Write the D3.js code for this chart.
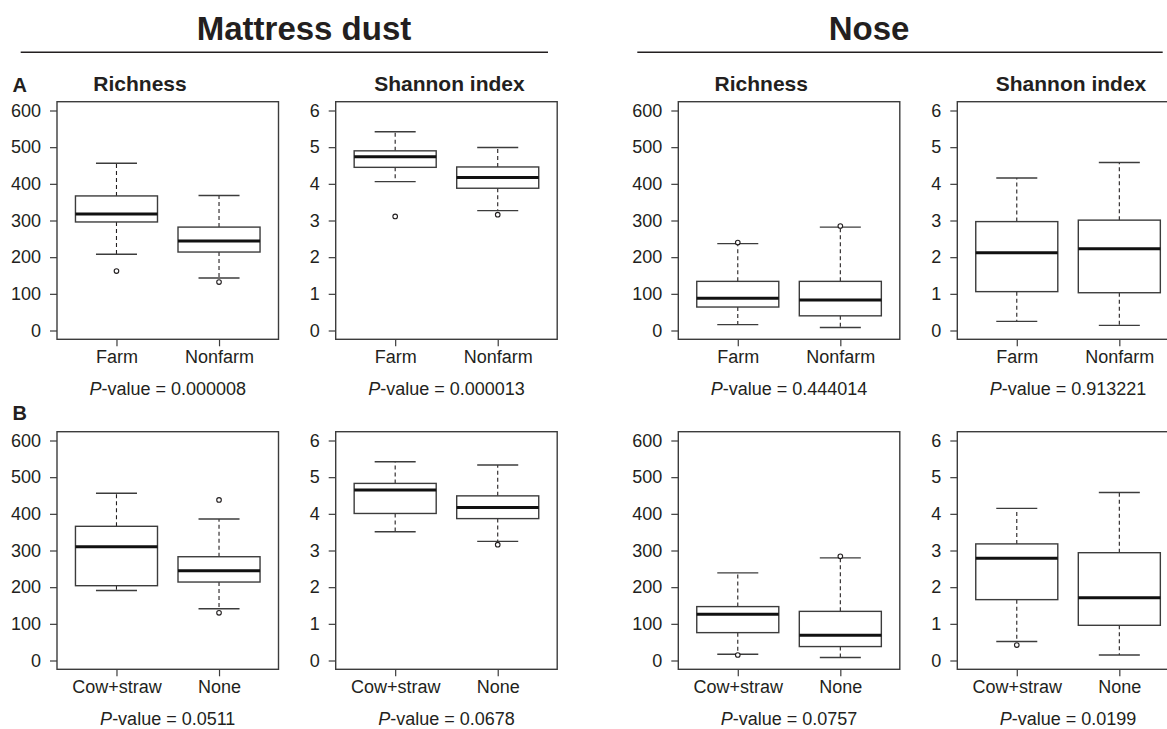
<!DOCTYPE html>
<html>
<head>
<meta charset="utf-8">
<script src="https://cdn.jsdelivr.net/npm/d3@7"></script>
<style>
  html, body { margin: 0; padding: 0; background: #fff; }
  svg { display: block; font-family: "Liberation Sans", Arial, Helvetica, sans-serif; }
</style>
</head>
<body>
<svg id="chart" width="1167" height="729"></svg>
<script>
// ---- Data -------------------------------------------------------------
const sites = ["Mattress dust", "Nose"];
const metrics = ["Richness", "Shannon index"];
const rowLabels = ["A", "B"];
const groupsA = ["Farm", "Nonfarm"];
const groupsB = ["Cow+straw", "None"];
const richnessTicks = [0, 100, 200, 300, 400, 500, 600];
const shannonTicks = [0, 1, 2, 3, 4, 5, 6];

// box statistics per group: [lower whisker, Q1, median, Q3, upper whisker]
const dustRichnessA   = [[208, 296, 318, 367, 456], [143, 214, 244, 282, 368]];
const dustRichnessAOut = [[162], [132]];
const dustShannonA    = [[4.06, 4.45, 4.74, 4.90, 5.42], [3.27, 3.88, 4.17, 4.46, 4.99]];
const dustShannonAOut = [[3.11], [3.16]];
const noseRichnessA   = [[16, 64, 88, 134, 237], [8, 40, 83, 134, 282]];
const noseRichnessAOut = [[240], [285]];
const noseShannonA    = [[0.25, 1.06, 2.12, 2.97, 4.16], [0.14, 1.03, 2.23, 3.01, 4.58]];
const noseShannonAOut = [[], []];

const dustRichnessB   = [[191, 204, 310, 366, 456], [141, 214, 245, 283, 386]];
const dustRichnessBOut = [[], [438, 130]];
const dustShannonB    = [[3.51, 4.01, 4.65, 4.83, 5.42], [3.25, 3.87, 4.17, 4.49, 5.33]];
const dustShannonBOut = [[], [3.16]];
const noseRichnessB   = [[17, 76, 126, 147, 239], [8, 38, 69, 134, 280]];
const noseRichnessBOut = [[15], [284]];
const noseShannonB    = [[0.52, 1.66, 2.79, 3.18, 4.15], [0.15, 0.96, 1.71, 2.94, 4.58]];
const noseShannonBOut = [[0.42], []];

const pValuesA = ["0.000008", "0.000013", "0.444014", "0.913221"];
const pValuesB = ["0.0511", "0.0678", "0.0757", "0.0199"];

// ---- Layout -----------------------------------------------------------
const INK = "#231f20";
const LINE = "#3c3c3c";
const colX = [57, 335.7, 678.3, 957.3];
const rowY = [101.7, 431.7];
const panelW = 221.5, panelH = 237.6;

const svg = d3.select("#chart");

// section headings with rules underneath
const headings = [
  { text: sites[0], cx: 304, x1: 20.7, x2: 548 },
  { text: sites[1], cx: 869, x1: 637.3, x2: 1162.7 }
];
headings.forEach(h => {
  svg.append("text").attr("x", h.cx).attr("y", 39.5)
    .attr("text-anchor", "middle").attr("font-size", 33).attr("font-weight", "bold")
    .attr("fill", INK).text(h.text);
  svg.append("line").attr("x1", h.x1).attr("x2", h.x2).attr("y1", 52.3).attr("y2", 52.3)
    .attr("stroke", INK).attr("stroke-width", 1.4);
});

// row letters
svg.append("text").attr("x", 12.5).attr("y", 91.5).attr("font-size", 20)
  .attr("font-weight", "bold").attr("fill", INK).text(rowLabels[0]);
svg.append("text").attr("x", 12.5).attr("y", 419.5).attr("font-size", 20)
  .attr("font-weight", "bold").attr("fill", INK).text(rowLabels[1]);

const panels = [
  { row: 0, col: 0, groups: groupsA, stats: dustRichnessA, out: dustRichnessAOut, ticks: richnessTicks, title: metrics[0], p: pValuesA[0] },
  { row: 0, col: 1, groups: groupsA, stats: dustShannonA,  out: dustShannonAOut,  ticks: shannonTicks,  title: metrics[1], p: pValuesA[1] },
  { row: 0, col: 2, groups: groupsA, stats: noseRichnessA, out: noseRichnessAOut, ticks: richnessTicks, title: metrics[0], p: pValuesA[2] },
  { row: 0, col: 3, groups: groupsA, stats: noseShannonA,  out: noseShannonAOut,  ticks: shannonTicks,  title: metrics[1], p: pValuesA[3] },
  { row: 1, col: 0, groups: groupsB, stats: dustRichnessB, out: dustRichnessBOut, ticks: richnessTicks, title: null, p: pValuesB[0] },
  { row: 1, col: 1, groups: groupsB, stats: dustShannonB,  out: dustShannonBOut,  ticks: shannonTicks,  title: null, p: pValuesB[1] },
  { row: 1, col: 2, groups: groupsB, stats: noseRichnessB, out: noseRichnessBOut, ticks: richnessTicks, title: null, p: pValuesB[2] },
  { row: 1, col: 3, groups: groupsB, stats: noseShannonB,  out: noseShannonBOut,  ticks: shannonTicks,  title: null, p: pValuesB[3] }
];

panels.forEach(pn => {
  const x0 = colX[pn.col], y0 = rowY[pn.row];
  const g = svg.append("g").attr("transform", `translate(${x0},${y0})`);

  const tMin = pn.ticks[0], tMax = pn.ticks[pn.ticks.length - 1];
  const pad = (tMax - tMin) * 0.04;
  const y = d3.scaleLinear().domain([tMin - pad, tMax + pad]).range([panelH, 0]);
  const x = d3.scalePoint().domain(pn.groups).range([0, panelW]).padding(0.58);
  const step = x.step();
  const halfBox = 0.4 * step, halfCap = 0.2 * step;

  // axes
  const yAxis = g.append("g").call(
    d3.axisLeft(y).tickValues(pn.ticks).tickFormat(d3.format("d")).tickSize(7).tickPadding(9));
  yAxis.select(".domain").remove();
  yAxis.selectAll("line").attr("stroke", LINE).attr("stroke-width", 1.2);
  yAxis.selectAll("text").attr("font-size", 18).attr("fill", INK)
    .attr("font-family", "'Liberation Sans', Arial, sans-serif");

  const xAxis = g.append("g").attr("transform", `translate(0,${panelH})`)
    .call(d3.axisBottom(x).tickSize(7).tickPadding(4));
  xAxis.select(".domain").remove();
  xAxis.selectAll("line").attr("stroke", LINE).attr("stroke-width", 1.2);
  xAxis.selectAll("text").attr("font-size", 18).attr("fill", INK)
    .attr("font-family", "'Liberation Sans', Arial, sans-serif");

  // frame
  g.append("rect").attr("width", panelW).attr("height", panelH)
    .attr("fill", "none").attr("stroke", LINE).attr("stroke-width", 1.4);

  // boxes
  pn.groups.forEach((grp, i) => {
    const [lo, q1, med, q3, hi] = pn.stats[i];
    const cx = x(grp);
    const bg = g.append("g");
    bg.append("line").attr("x1", cx).attr("x2", cx).attr("y1", y(q3)).attr("y2", y(hi))
      .attr("stroke", INK).attr("stroke-width", 1.1).attr("stroke-dasharray", "4,3");
    bg.append("line").attr("x1", cx).attr("x2", cx).attr("y1", y(q1)).attr("y2", y(lo))
      .attr("stroke", INK).attr("stroke-width", 1.1).attr("stroke-dasharray", "4,3");
    [lo, hi].forEach(v => {
      bg.append("line").attr("x1", cx - halfCap).attr("x2", cx + halfCap)
        .attr("y1", y(v)).attr("y2", y(v)).attr("stroke", LINE).attr("stroke-width", 1.4);
    });
    bg.append("rect").attr("x", cx - halfBox).attr("width", 2 * halfBox)
      .attr("y", y(q3)).attr("height", y(q1) - y(q3))
      .attr("fill", "#fff").attr("stroke", LINE).attr("stroke-width", 1.4);
    bg.append("line").attr("x1", cx - halfBox).attr("x2", cx + halfBox)
      .attr("y1", y(med)).attr("y2", y(med)).attr("stroke", "#111").attr("stroke-width", 3);
    pn.out[i].forEach(v => {
      bg.append("circle").attr("cx", cx).attr("cy", y(v)).attr("r", 2.3)
        .attr("fill", "#fff").attr("stroke", INK).attr("stroke-width", 1.1);
    });
  });

  // metric title
  if (pn.title) {
    const tx = pn.title === metrics[0] ? 83 : panelW / 2 + 3;
    svg.append("text").attr("x", x0 + tx).attr("y", 91)
      .attr("text-anchor", "middle").attr("font-size", 21).attr("font-weight", "bold")
      .attr("fill", INK).text(pn.title);
  }

  // p-value caption
  const cap = svg.append("text").attr("x", x0 + panelW / 2).attr("y", y0 + panelH + 55.6)
    .attr("text-anchor", "middle").attr("font-size", 18).attr("fill", INK);
  cap.append("tspan").attr("font-style", "italic").text("P");
  cap.append("tspan").text("-value = " + pn.p);
});
</script>
</body>
</html>
